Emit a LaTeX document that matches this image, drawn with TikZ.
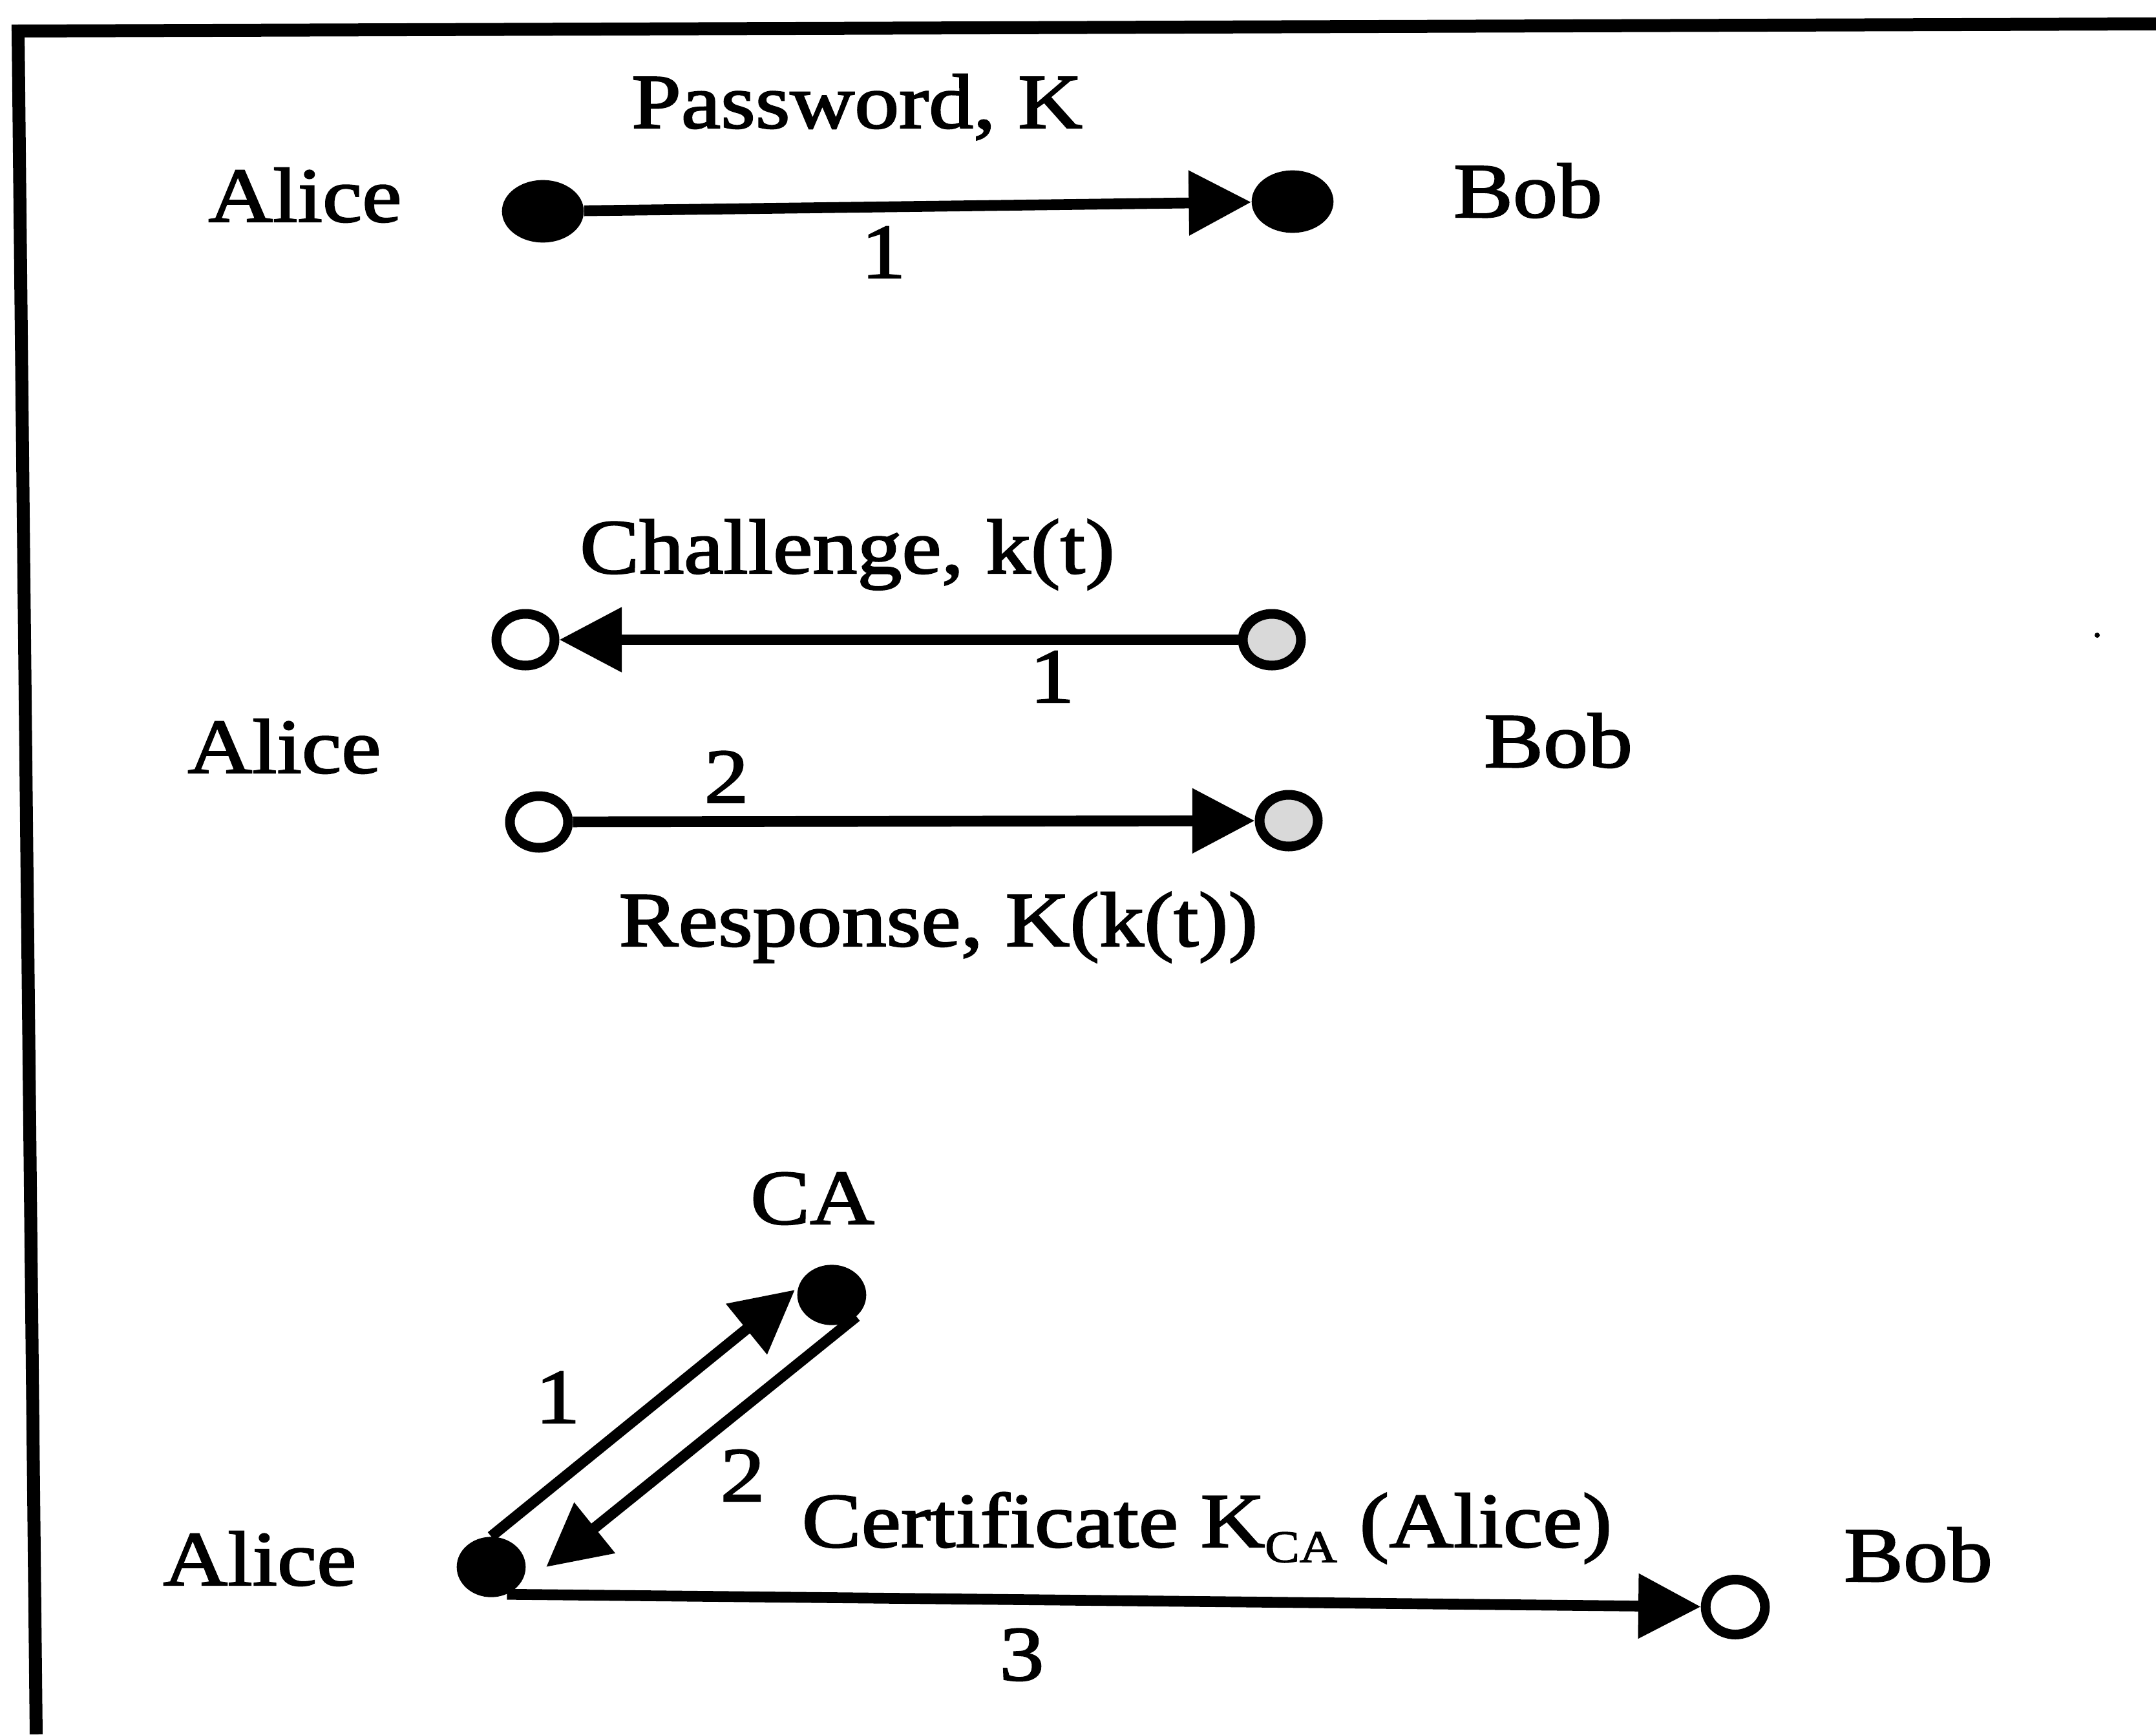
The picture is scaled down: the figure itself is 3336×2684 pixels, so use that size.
\documentclass[tikz,border=0pt]{standalone}
\usepackage{fontspec}
\setmainfont{Liberation Serif}[FakeStretch=1.15,FakeBold=2]
\usetikzlibrary{arrows.meta,shapes.geometric}

\tikzset{
  lbl/.style={font=\fontsize{36}{43}\selectfont, inner sep=0pt, anchor=base},
  sdot/.style={ellipse, fill=black, inner sep=0pt, minimum width=38pt, minimum height=29pt},
  cdot/.style={ellipse, fill=black, inner sep=0pt, minimum width=32pt, minimum height=28pt},
  ocirc/.style={ellipse, draw=black, line width=4.5pt, fill=white, inner sep=0pt,
                minimum width=27pt, minimum height=24pt},
  gcirc/.style={ocirc, fill=gray!30},
  conn/.style={line width=5pt, -{Triangle[length=29pt,width=29pt]}},
}

\begin{document}
\begin{tikzpicture}[x=0.3pt,y=-0.3pt]
\useasboundingbox (0,0) rectangle (3336,2684);

% frame (top and left edges)
\draw[line width=6pt, line join=miter] (56,2684) -- (28,48) -- (3336,37);

% --- password scheme ---
\node[sdot] (pa) at (840,327) {};
\node[sdot] (pb) at (2000,312) {};
\draw[conn] (pa) -- (pb);
\node[lbl] (pwd) at (1326,198) {Password, K};
\node[lbl] (alice1) at (472,343) {Alice};
\node[lbl] (bob1) at (2364,336) {Bob};
\node[lbl] (step11) at (1367,430) {1};

% --- challenge / response ---
\node[ocirc] (ca1) at (813,990) {};
\node[gcirc] (cb1) at (1968,990) {};
\draw[conn] (cb1) -- (ca1);
\node[ocirc] (ca2) at (834,1272) {};
\node[gcirc] (cb2) at (1994,1270) {};
\draw[conn] (ca2) -- (cb2);
\node[lbl] (chal) at (1311,887) {Challenge, k(t)};
\node[lbl] (step21) at (1628,1087) {1};
\node[lbl] (alice2) at (440,1196) {Alice};
\node[lbl] (bob2) at (2411,1187) {Bob};
\node[lbl] (step22) at (1124,1242) {2};
\node[lbl] (resp) at (1452,1464) {Response, K(k(t))};

% --- certificate scheme ---
\node[cdot] (al3) at (760,2425) {};
\node[cdot] (ca) at (1287,2004) {};
\node[ocirc, minimum width=27.5pt, minimum height=25.5pt] (bob3c) at (2685,2487) {};
\coordinate (tip1) at (1230,1996);
\coordinate (tip2) at (845,2425);
\draw[conn] (al3.north) -- (tip1);
\draw[conn] (ca.south east) -- (tip2);
\draw[conn] (al3.-60) -- (bob3c);
\node[lbl] (calbl) at (1257,1894) {CA};
\node[lbl] (step31) at (863,2202) {1};
\node[lbl] (step32) at (1149,2323) {2};
\node[lbl, anchor=base west] (cert) at (1240,2394)
  {Certificate K\raisebox{-7pt}{\fontsize{21}{25}\selectfont CA} (Alice)};
\node[lbl] (alice3) at (402,2453) {Alice};
\node[lbl] (bob3) at (2968,2447) {Bob};
\node[lbl] (step33) at (1581,2600) {3};

% stray speck on the right
\fill (3245,983) circle[radius=4];
\end{tikzpicture}
\end{document}
